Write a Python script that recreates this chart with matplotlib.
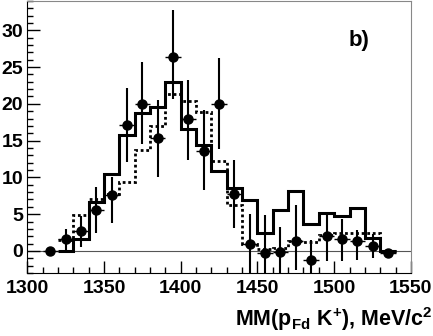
import matplotlib
matplotlib.use("Agg")
import matplotlib.pyplot as plt
import numpy as np
from matplotlib.ticker import MultipleLocator

plt.rcParams['font.family'] = ['Liberation Sans', 'DejaVu Sans']
plt.rcParams['font.weight'] = 'bold'
plt.rcParams['mathtext.fontset'] = 'custom'
plt.rcParams['mathtext.rm'] = 'Liberation Sans:bold'
plt.rcParams['mathtext.it'] = 'Liberation Sans:bold'
plt.rcParams['mathtext.bf'] = 'Liberation Sans:bold'

# data points (bin centres, 10 MeV bins)
centers = np.arange(1315, 1540, 10)
counts = [0.0, 1.6, 2.7, 5.6, 7.6, 17.1, 20.0, 15.3, 26.4, 17.9, 13.6, 20.0,
          7.8, 0.95, -0.3, -0.2, 1.4, -1.2, 2.0, 1.6, 1.3, 0.7, -0.3]
err_lo = [0.0, 1.6, 2.1, 3.2, 3.8, 5.0, 5.4, 5.2, 5.7, 5.6, 5.3, 6.1,
          4.7, 4.5, 4.5, 3.5, 4.0, 3.0, 3.4, 3.0, 2.5, 1.7, 0.3]
err_hi = [0.0, 1.4, 2.0, 3.1, 2.5, 5.0, 5.7, 5.2, 6.4, 5.4, 5.5, 6.2,
          4.5, 4.1, 5.2, 3.5, 4.8, 2.7, 3.1, 2.8, 1.6, 1.6, 0.3]

# histograms, edges 1320..1540
edges = np.arange(1320, 1550, 10)
solid = [0.0, 1.6, 6.7, 10.45, 15.7, 18.7, 19.6, 22.9, 16.6, 14.4, 10.8,
         8.5, 6.9, 2.5, 5.5, 8.2, 3.6, 5.2, 4.7, 5.9, 1.7, 0.0]
dotted = [1.5, 4.9, 7.1, 7.7, 9.4, 13.7, 17.0, 21.4, 20.4, 18.9, 12.2,
          6.3, 1.0, 0.3, 0.4, 1.3, 1.2, 2.2, 2.5, 2.4, 2.5, 0.0]

fig = plt.figure(figsize=(4.33, 3.36), dpi=100)
ax = fig.add_axes([0.063, 0.1875, 0.886, 0.81])

ax.axhline(0, color='#555555', lw=0.8, zorder=1)
ax.stairs(solid, edges, baseline=None, color='black', lw=2.2, zorder=3)
ax.stairs(dotted, edges, baseline=None, color='black', lw=2.0,
          linestyle=(0, (1, 1)), zorder=2)
ax.errorbar(centers, counts, yerr=[err_lo, err_hi], fmt='o', color='black',
            ms=6.5, elinewidth=1.5, capsize=0, zorder=4)
ax.errorbar(centers, counts, xerr=5, fmt='none', ecolor='black',
            elinewidth=1.0, capsize=0, ls='none', zorder=4)

ax.set_xlim(1300, 1550)
ax.set_ylim(-3, 34)
ax.xaxis.set_major_locator(MultipleLocator(50))
ax.xaxis.set_minor_locator(MultipleLocator(10))
ax.yaxis.set_major_locator(MultipleLocator(5))
ax.yaxis.set_minor_locator(MultipleLocator(1))
ax.tick_params(which='both', direction='in', labelsize=14, width=1.0)
ax.tick_params(which='major', length=9)
ax.tick_params(which='minor', length=4.5)
ax.tick_params(axis='x', pad=5)
ax.tick_params(axis='y', pad=3)
for lab in ax.get_xticklabels() + ax.get_yticklabels():
    lab.set_fontweight('bold')
for s in ['top', 'right']:
    ax.spines[s].set_color('#888888')

ax.text(0.838, 0.835, 'b)', transform=ax.transAxes, fontsize=16,
        fontweight='bold')
fig.text(0.999, 0.03, r'MM(p$_{Fd}$ K$^{+}$), MeV/c$^{2}$', ha='right',
         va='baseline', fontsize=15.5, fontweight='bold')

fig.savefig('out.png', dpi=100)
